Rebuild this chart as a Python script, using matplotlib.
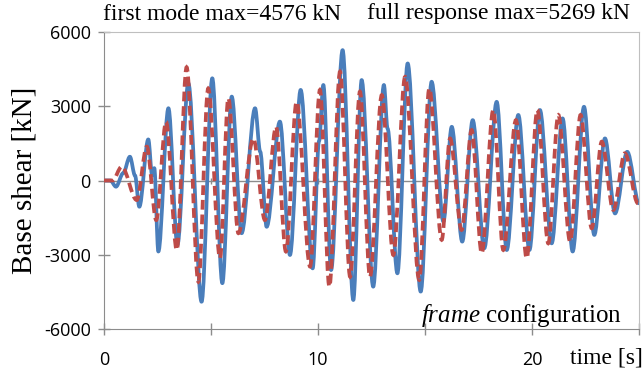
import matplotlib
matplotlib.use("Agg")
import matplotlib.pyplot as plt
from matplotlib.path import Path
from matplotlib.patches import PathPatch

# full response (blue, solid): peaks and troughs
t_full = [0.0, 0.3, 0.56, 0.9, 1.21, 1.45, 1.65, 2.07, 2.25, 2.35, 2.54, 3.01, 3.43, 3.94,
          4.56, 5.06, 5.53, 5.97, 6.43, 7.06, 7.3, 7.6, 8.22, 8.69, 9.19, 9.75, 10.05,
          10.25, 10.61, 11.15, 11.65, 12.04, 12.58, 13.08, 13.25, 13.71, 14.19, 14.8,
          15.31, 15.86, 16.25, 16.74, 17.23, 17.77, 18.35, 18.82, 19.36, 19.88, 20.37,
          20.92, 21.43, 21.9, 22.43, 22.91, 23.41, 23.88, 24.45, 25.0]
v_full = [0, 0, -250, 300, 960, 200, -1060, 1660, 200, 500, -2870, 2920, -2600, 3930,
          -4900, 4130, -4150, 3390, -2130, 2920, 1160, -1870, 2380, -3010, 3660, -3550, 1600,
          3860, -3620, 5269, -4830, 4060, -4290, 3860, 2100, -3750, 4730, -4490,
          3990, -1660, 2170, -2470, 2440, -2740, 3180, -2810, 2650, -2810, 2850,
          -2540, 2510, -2870, 2980, -2200, 1700, -1330, 1160, -920]

# first mode (red, dashed)
t_mode = [0.0, 0.4, 0.83, 1.53, 2.0, 2.44, 2.9, 3.4, 3.86, 4.41, 4.87, 5.42, 5.81, 6.28,
          6.98, 7.52, 8.04, 8.5, 9.0, 9.63, 10.09, 10.53, 11.03, 11.5, 11.96, 12.43,
          12.98, 13.52, 14.07, 14.73, 15.2, 15.78, 16.17, 16.71, 17.18, 17.65, 18.19,
          18.66, 19.25, 19.75, 20.25, 20.76, 21.23, 21.78, 22.27, 22.79, 23.26, 23.8,
          24.34, 24.95]
v_mode = [0, 0, 560, -790, 1370, -1600, 2380, -2810, 4576, -4090, 3720, -3140, 3320, -2130,
          1700, -1600, 2170, -2870, 3180, -3480, 3660, -4290, 4400, -3890, 3590, -3890,
          3450, -3010, 4190, -4020, 3720, -2400, 1700, -2000, 2040, -2940, 2850,
          -2810, 2440, -3140, 2850, -2540, 2650, -2470, 2650, -1930, 1570, -1190,
          1100, -920]

x_ticks = [0, 5, 10, 15, 20, 25]
x_labels = ["0", "", "10", "", "20", ""]
y_ticks = [-6000, -3000, 0, 3000, 6000]

serif = "Liberation Serif"
sans = "Open Sans"
plt.rcParams["axes.unicode_minus"] = False
plt.rcParams["mathtext.fontset"] = "custom"
plt.rcParams["mathtext.it"] = "Liberation Serif:italic"
plt.rcParams["mathtext.rm"] = "Liberation Serif"


def smooth_path(xs, ys):
    # Excel-like smoothed line: cubic segments with flat tangents at each point
    verts = [(xs[0], ys[0])]
    codes = [Path.MOVETO]
    for i in range(len(xs) - 1):
        dx = xs[i + 1] - xs[i]
        verts += [(xs[i] + dx / 3, ys[i]), (xs[i + 1] - dx / 3, ys[i + 1]), (xs[i + 1], ys[i + 1])]
        codes += [Path.CURVE4] * 3
    return Path(verts, codes)


fig = plt.figure(figsize=(6.44, 3.71), dpi=100)
ax = fig.add_axes([104 / 644, 42 / 371, 535 / 644, 297 / 371])

ax.axhline(0, color="#8c8c8c", lw=1.0, zorder=1)
ax.plot(x_ticks[1:-1], [0] * 4, ls="none", marker="|", ms=4, color="#8c8c8c", zorder=1)

ax.add_patch(PathPatch(smooth_path(t_full, v_full), fill=False, edgecolor="#4a7ebb",
                       lw=2.7, joinstyle="round", capstyle="round", zorder=2))
ax.add_patch(PathPatch(smooth_path(t_mode, v_mode), fill=False, edgecolor="#be4b48",
                       lw=2.7, ls=(0, (2.6, 1.3)), capstyle="butt", zorder=3))

ax.set_xlim(0, 25)
ax.set_ylim(-6000, 6000)
ax.set_xticks(x_ticks)
ax.set_xticklabels(x_labels)
ax.set_yticks(y_ticks)

for s in ["left", "bottom"]:
    ax.spines[s].set_color("#8c8c8c")
for s in ["top", "right"]:
    ax.spines[s].set_color("#bfbfbf")
ax.tick_params(direction="inout", length=9, width=1, color="#8c8c8c",
               labelsize=13, labelcolor="black")
ax.tick_params(axis="y", pad=5)
ax.tick_params(axis="x", pad=11)
for lab in ax.get_xticklabels() + ax.get_yticklabels():
    lab.set_fontfamily(sans)

ax.set_ylabel("Base shear [kN]", family=serif, fontsize=21)
ax.yaxis.set_label_coords(-0.125, 0.5)

fig.text(103 / 644, 1 - 14 / 371, "first mode max=4576 kN", family=serif, fontsize=17,
         va="center", ha="left")
fig.text(630 / 644, 1 - 14 / 371, "full response max=5269 kN", family=serif, fontsize=17,
         va="center", ha="right")
fig.text(643 / 644, 1 - 358 / 371, "time [s]", family=serif, fontsize=17,
         va="center", ha="right")
ax.text(0.968, 0.044, r"$\mathit{frame}$ configuration", transform=ax.transAxes,
        family=serif, fontsize=18, ha="right", va="center")

fig.savefig("out.png", dpi=100)
